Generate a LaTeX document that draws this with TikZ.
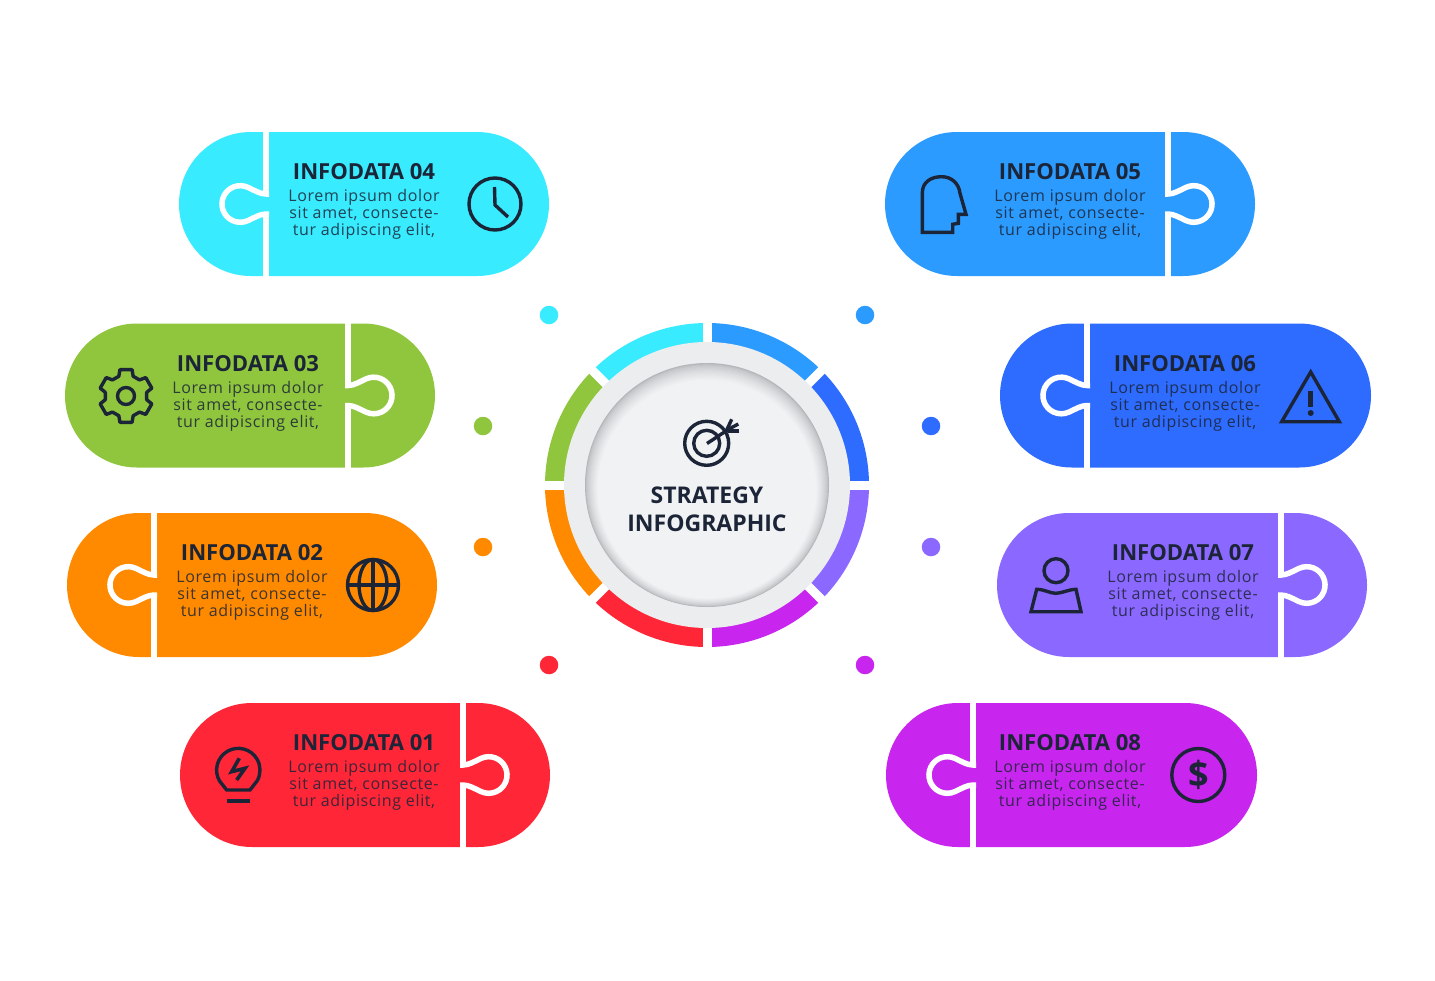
\documentclass[tikz,border=0pt]{standalone}
\usepackage{fontspec}
\usetikzlibrary{calc}
\setmainfont{Open Sans}
\definecolor{cFour}{HTML}{38EBFF}
\definecolor{cFive}{HTML}{2B9BFF}
\definecolor{cSix}{HTML}{2E6BFF}
\definecolor{cSeven}{HTML}{8B68FF}
\definecolor{cEight}{HTML}{C826EE}
\definecolor{cOne}{HTML}{FF2638}
\definecolor{cTwo}{HTML}{FF8A00}
\definecolor{cThree}{HTML}{90C63E}
\definecolor{ink}{HTML}{1C2537}
\definecolor{ringgray}{HTML}{EBEDEF}
\definecolor{discgray}{HTML}{F1F2F4}
\definecolor{discshade}{HTML}{B4B6B9}
\tikzset{
  icon/.style={draw=ink,line width=3.4pt,line join=miter,fill=none},
  titletext/.style={text=ink,inner sep=0pt,font=\fontsize{22.1}{26}\selectfont\bfseries},
  bodytext/.style={text=ink,text opacity=.85,inner sep=0pt,align=center,font=\fontsize{16}{17}\selectfont\addfontfeatures{LetterSpace=4}},
  centertext/.style={text=ink,inner sep=0pt,font=\fontsize{23}{27}\selectfont\bfseries},
  seam/.style={draw=white,line width=5.5pt},
  dotmark/.style={circle,inner sep=0pt,minimum size=18.5pt}
}
% id, x, top, width, colour, divider x, direction, text centre x
\newcommand{\infopill}[8]{%
  \fill[#5,rounded corners=72pt] (#2,#3) rectangle ({#2+#4},{#3+144});
  \begin{scope}[shift={(#6,{#3+72})},xscale=#7]
    \draw[seam] (0,-74) -- (0,-10);
    \draw[seam] (0,10) -- (0,74);
    \draw[seam] (-3,-10) -- (0,-10) .. controls (6,-10) and (11.7,-13.7) .. (18,-16.6)
      arc[start angle=-115,end angle=115,radius=18.3]
      .. controls (11.7,13.7) and (6,10) .. (0,10) -- (-3,10);
  \end{scope}
  \node[titletext] (title#1) at (#8,{#3+40}) {INFODATA #1};
  \node[bodytext] (body#1) at (#8,{#3+82.5}) {Lorem ipsum dolor\\sit amet, consecte-\\tur adipiscing elit,};
}
\begin{document}
\begin{tikzpicture}[x=1pt,y=1pt,yscale=-1]
\useasboundingbox (0,0) rectangle (1435,980);
\fill[white] (0,0) rectangle (1435,980);

\infopill{04}{179}{132}{370}{cFour}{266}{-1}{364}
\infopill{03}{65}{323.5}{370}{cThree}{348}{1}{248}
\infopill{02}{67}{513}{370}{cTwo}{154}{-1}{252}
\infopill{01}{180}{703}{370}{cOne}{463}{1}{364}
\infopill{05}{885}{132}{370}{cFive}{1168}{1}{1070}
\infopill{06}{1000}{323.5}{371}{cSix}{1087}{-1}{1185}
\infopill{07}{997}{513}{370}{cSeven}{1281}{1}{1183}
\infopill{08}{886}{703}{371}{cEight}{973}{-1}{1070}

% ring
\foreach \a/\c in {-90/cFive,-45/cSix,0/cSeven,45/cEight,90/cOne,135/cTwo,180/cThree,225/cFour}{
  \fill[\c] (707,485) -- ++(\a:162) arc[start angle=\a,end angle=\a+45,radius=162] -- cycle;
}
\foreach \a in {0,45,...,315}{
  \draw[white,line width=9pt] (707,485) -- ++(\a:170);
}
\fill[ringgray] (707,485) circle[radius=143];
% disc with an inner shadow
\foreach \i in {0,...,14}{
  \pgfmathsetmacro{\p}{100*(\i/14)^0.6}
  \pgfmathsetmacro{\rr}{122-\i*0.9}
  \pgfmathsetmacro{\dy}{\i*0.3}
  \fill[discgray!\p!discshade] (707,{485+\dy}) circle[radius=\rr];
}

% dots
\node[dotmark,fill=cFour] (dotA) at (549,315) {};
\node[dotmark,fill=cFive] (dotB) at (865,315) {};
\node[dotmark,fill=cThree] (dotC) at (483,426) {};
\node[dotmark,fill=cSix] (dotD) at (931,426) {};
\node[dotmark,fill=cTwo] (dotE) at (483,547) {};
\node[dotmark,fill=cSeven] (dotF) at (931,547) {};
\node[dotmark,fill=cOne] (dotG) at (549,665) {};
\node[dotmark,fill=cEight] (dotH) at (865,665) {};

% centre
\node[centertext] (strategy) at (707,495.5) {STRATEGY};
\node[centertext] (infographic) at (707,523) {INFOGRAPHIC};
\draw[icon] (706.7,443.3) circle[radius=22];
\draw[icon] (706.7,443.3) circle[radius=13];
\draw[icon] (707,443.5) -- (729,429);
\draw[icon] (731.7,419.3) -- (726.7,430);
\draw[icon] (738.3,424) -- (729,429);
\draw[icon] (739.3,431) -- (728.3,431);

% clock
\draw[icon] (495,204) circle[radius=26];
\draw[icon] (494.5,187) -- (495,205) -- (508,217);
% gear
\draw[icon] (126,396) circle[radius=8.5];
\draw[icon,line join=round] ($(126,396)+(-103:27)$)
  \foreach \a in {-90,-30,30,90,150,210}{
    -- ($(126,396)+(\a-13:27)$) -- ($(126,396)+(\a+13:27)$) -- ($(126,396)+(\a+20:21)$) -- ($(126,396)+(\a+40:21)$)
  } -- cycle;
% head
\draw[icon] (922.3,232.3) -- (922.3,193) .. controls (922.3,182) and (931,176.7) .. (941.7,176.7)
  .. controls (952,176.7) and (959,184) .. (960,193.3) -- (966,214.3) -- (958.3,214.3) -- (958.3,223.3)
  -- (952.7,224.3) -- (952.7,232.3) -- cycle;
% warning
\draw[icon] (1310.7,372) -- (1281.7,421.7) -- (1339.3,421.7) -- cycle;
\draw[icon,line width=5pt] (1310.7,390.7) -- (1310.7,406.7);
\fill[ink] (1310.7,413) circle[radius=3];
% person
\draw[icon] (1056,570.7) circle[radius=12];
\draw[icon] (1036.7,589.3) .. controls (1045,589.5) and (1050,593.3) .. (1055.7,593.3)
  .. controls (1062,593.3) and (1068,589.5) .. (1076,589.3) -- (1081,611.7) -- (1031,611.7) -- cycle;
% globe
\draw[icon] (373,585) circle[radius=25.5];
\draw[icon] (373,585) ellipse[x radius=14,y radius=25.5];
\draw[icon] (373,559.5) -- (373,610.5);
\draw[icon] (347.5,585) -- (398.5,585);
% bulb
\draw[icon] (226.7,790) -- (219.5,780.9) arc[start angle=150,end angle=390,radius=21.7] -- (250,790) -- cycle;
\draw[icon,line width=3.6pt] (226.7,800.7) -- (250,800.7);
\draw[icon,line width=3.6pt] (239.3,758.3) -- (231.7,771.7) -- (245,768.3) -- (236.7,780);
% dollar
\draw[icon] (1198.3,775) circle[radius=26.5];
\node[text=ink,inner sep=0pt,font=\fontsize{36}{38}\selectfont\bfseries] (dollar) at (1198.3,775) {\$};
\end{tikzpicture}
\end{document}
